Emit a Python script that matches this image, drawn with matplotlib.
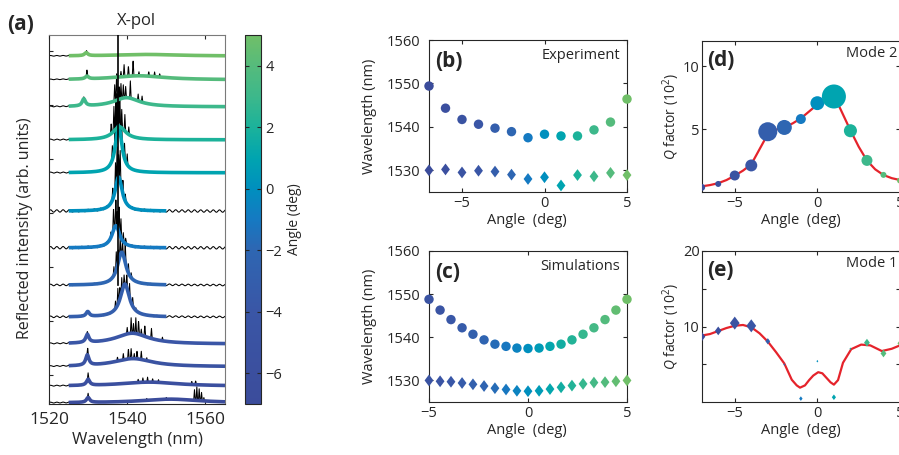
import numpy as np
import matplotlib.pyplot as plt
from matplotlib.colors import LinearSegmentedColormap, Normalize
from matplotlib.cm import ScalarMappable

plt.rcParams['font.family'] = ['Open Sans', 'DejaVu Sans']
plt.rcParams['mathtext.fontset'] = 'custom'
plt.rcParams['mathtext.rm'] = 'Open Sans'
plt.rcParams['mathtext.it'] = 'Open Sans:italic'

ink = '#262626'
fit_red = '#e5232b'

# ---- angle colour scale (shared by all panels)
scale_angles = [-7, -4, -2, -1, 0, 1, 2, 3, 4, 5]
scale_colors = ['#3b4c9b', '#3a56a6', '#2e66b2', '#1579c2', '#008fbe',
                '#00a4b0', '#1bb29b', '#3cb88b', '#55bb7c', '#70bf68']

# ---- (a) reflection spectra, one per angle, bottom to top
angles_a = [-7, -6, -5, -4, -3, -2, -1, 0, 1, 2, 3, 4, 5]
offset_a = [-0.52, -0.21, 0.15, 0.57, 1.07, 1.66, 2.35, 3.03, 3.74, 4.35, 4.96, 5.46, 5.90]
m1_center = [1530.0, 1530.0, 1529.8, 1529.8, 1529.9, 1530.0, 1530.0, 1530.0,
             1530.0, 1530.0, 1528.9, 1529.7, 1529.5]
m1_height = [0.09, 0.11, 0.19, 0.15, 0.09, 0, 0, 0, 0, 0, 0.13, 0.05, 0.055]
m2_center = [1551.0, 1545.6, 1541.5, 1541.3, 1539.4, 1538.6, 1537.1, 1537.8,
             1537.8, 1538.0, 1539.8, 1543.0, 1545.0]
m2_height = [0.07, 0.075, 0.15, 0.20, 0.61, 0.61, 0.41, 0.63, 0.87, 0.24, 0.17, 0.075, 0.03]
m2_hwhm = [9, 9, 6, 5, 1.4, 1.3, 1.2, 1.1, 1.0, 2.0, 4, 8, 10]
fit_end = [1565, 1565, 1565, 1565, 1550, 1550, 1550, 1550, 1565, 1565, 1565, 1565, 1565]
ripple_a = [0.008, 0.008, 0.008, 0.01, 0.015, 0.015, 0.022, 0.022, 0.01, 0.01, 0.008, 0.006, 0.006]
spikes_a = [
    [(1530.0, 0.07), (1545.0, 0.04), (1550.0, 0.04), (1557.2, 0.19), (1557.8, 0.26),
     (1558.4, 0.22), (1559.0, 0.15), (1559.6, 0.07)],
    [(1530.0, 0.11), (1542.8, 0.05), (1544.0, 0.08), (1545.2, 0.10), (1546.5, 0.07),
     (1548.0, 0.05), (1556.5, 0.07), (1557.5, 0.07)],
    [(1529.9, 0.13), (1537.5, 0.08), (1539.0, 0.12), (1540.3, 0.20), (1541.0, 0.18),
     (1541.8, 0.10), (1542.5, 0.15), (1543.6, 0.16), (1545.0, 0.06)],
    [(1529.8, 0.04), (1540.0, 0.12), (1541.0, 0.28), (1541.6, 0.18), (1542.2, 0.30),
     (1542.9, 0.25), (1543.6, 0.12), (1544.5, 0.20), (1546.2, 0.18), (1549.0, 0.06)],
    [(1537.0, 0.15), (1537.6, 0.30), (1538.1, 0.22), (1538.6, 0.28), (1539.2, 0.18),
     (1539.9, 0.25), (1540.6, 0.28), (1541.4, 0.15), (1542.2, 0.06)],
    [(1536.6, 0.15), (1537.2, 0.35), (1537.7, 0.25), (1538.2, 0.30), (1538.8, 0.25),
     (1539.5, 0.35), (1540.3, 0.20), (1541.0, 0.08)],
    [(1535.8, 0.12), (1536.5, 0.40), (1537.1, 0.55), (1537.5, 0.35), (1537.9, 0.50),
     (1538.4, 0.35), (1539.0, 0.18), (1539.6, 0.08)],
    [(1536.3, 0.20), (1537.0, 0.50), (1537.4, 0.65), (1537.8, 0.40), (1538.2, 0.55),
     (1538.9, 0.30), (1539.5, 0.12)],
    [(1536.2, 0.25), (1536.9, 0.60), (1537.3, 0.85), (1537.7, 0.55), (1538.1, 0.70),
     (1538.6, 0.40), (1539.3, 0.30), (1540.0, 0.20)],
    [(1535.9, 0.20), (1536.6, 0.45), (1537.1, 0.70), (1537.5, 0.45), (1538.0, 0.40),
     (1538.6, 0.35), (1539.4, 0.30), (1540.4, 0.15)],
    [(1528.9, 0.04), (1536.8, 0.30), (1537.3, 0.55), (1537.9, 0.25), (1538.4, 0.28),
     (1539.0, 0.25), (1539.6, 0.20), (1540.8, 0.32), (1542.8, 0.12), (1543.8, 0.12)],
    [(1529.7, 0.12), (1538.4, 0.10), (1539.2, 0.22), (1540.3, 0.20), (1541.5, 0.30),
     (1543.0, 0.07), (1545.5, 0.09), (1547.0, 0.09), (1548.3, 0.07)],
    [(1529.6, 0.04), (1530.2, 0.02)],
]
marker_line = 1537.6

# ---- (b) measured resonance wavelengths
angles_b = [-7, -6, -5, -4, -3, -2, -1, 0, 1, 2, 3, 4, 5]
mode2_exp = [1549.4, 1544.3, 1541.7, 1540.6, 1539.7, 1538.9, 1537.5, 1538.3,
             1537.9, 1537.9, 1539.3, 1541.1, 1546.4]
mode1_exp = [1530.0, 1530.2, 1529.5, 1529.9, 1529.7, 1529.0, 1528.0, 1528.4,
             1526.5, 1528.9, 1528.6, 1529.4, 1528.9]

# ---- (c) simulated resonance wavelengths
angles_c = [-5, -4.44, -3.89, -3.33, -2.78, -2.22, -1.67, -1.11, -0.56, 0,
            0.56, 1.11, 1.67, 2.22, 2.78, 3.33, 3.89, 4.44, 5]
mode2_sim = [1548.8, 1546.3, 1544.1, 1542.2, 1540.7, 1539.4, 1538.4, 1537.9, 1537.5, 1537.4,
             1537.5, 1537.9, 1538.4, 1539.4, 1540.7, 1542.2, 1544.1, 1546.3, 1548.8]
mode1_sim = [1530.0, 1529.8, 1529.7, 1529.4, 1529.1, 1528.7, 1528.2, 1527.9, 1527.6, 1527.5,
             1527.6, 1528.0, 1528.4, 1528.8, 1529.2, 1529.5, 1529.6, 1529.8, 1530.0]

# ---- (d) / (e) quality factors (units of 10^2), marker weight in pt
angles_q = [-7, -6, -5, -4, -3, -2, -1, 0, 1, 2, 3, 4, 5]
q_mode2 = [0.37, 0.64, 1.31, 2.11, 4.79, 5.13, 5.80, 7.06, 7.59, 4.87, 2.51, 1.36, 0.91]
w_mode2 = [5.0, 4.3, 7.2, 8.6, 13.7, 10.8, 7.2, 10.0, 17.3, 9.4, 7.9, 4.3, 4.3]
q_mode1 = [8.66, 9.42, 10.45, 10.09, 8.04, 4.96, 0.45, 5.4, 0.63, 7.05, 7.86, 6.43, 7.77]
w_mode1 = [7.0, 6.3, 9.4, 9.4, 4.5, 1.8, 3.3, 1.8, 4.0, 1.8, 5.6, 5.6, 4.8]

fit2_angle = [-7, -6.5, -6, -5.5, -5, -4.5, -4, -3.5, -3, -2.5, -2, -1.5, -1, -0.5, 0,
              0.5, 1, 1.25, 1.5, 1.75, 2, 2.5, 3, 3.5, 4, 4.5, 5]
fit2_q = [0.45, 0.55, 0.7, 0.95, 1.3, 1.7, 2.2, 3.4, 4.6, 4.95, 5.15, 5.45, 5.85, 6.4, 6.95,
          7.4, 7.5, 7.0, 6.3, 5.6, 4.9, 3.6, 2.5, 1.8, 1.35, 1.1, 0.95]
fit1_angle = [-7, -6.5, -6, -5.5, -5, -4.5, -4, -3.5, -3, -2.5, -2, -1.55, -1.25, -1.05, -0.75,
              -0.5, -0.25, 0.05, 0.3, 0.55, 0.8, 1.0, 1.25, 1.55, 2.05, 2.65, 3.2, 3.9, 4.5, 5]
fit1_q = [8.8, 9.0, 9.4, 9.8, 10.1, 10.2, 9.9, 9.1, 8.0, 6.6, 5.1, 2.95, 2.2, 1.9, 2.2,
          2.9, 3.5, 3.95, 3.8, 3.2, 2.6, 2.3, 2.9, 5.2, 7.0, 7.6, 7.5, 6.75, 7.05, 7.5]

W, H = 899, 455
fig = plt.figure(figsize=(W / 100, H / 100), dpi=100)


def box(left, top, right, bottom):
    return [left / W, 1 - bottom / H, (right - left) / W, (bottom - top) / H]


norm = Normalize(-7, 5)
cmap = LinearSegmentedColormap.from_list(
    'angle', [(norm(a), c) for a, c in zip(scale_angles, scale_colors)])
diamond = [(0, 1), (0.75, 0), (0, -1), (-0.75, 0)]


def style(ax, size, right=True):
    ax.tick_params(direction='in', length=3, width=0.8, colors=ink, labelsize=size,
                   top=True, right=right, pad=3)
    for sp in ax.spines.values():
        sp.set_color(ink)
        sp.set_linewidth(0.8)


# ---------------- (a)
ax = fig.add_axes(box(49, 35, 225, 404))
wl = np.arange(1520, 1565.001, 0.04)


def lorentz(x, c, h, w):
    return h / (1 + ((x - c) / w) ** 2)


for i, ang in enumerate(angles_a):
    fit = lorentz(wl, m1_center[i], m1_height[i], 0.5) + \
        lorentz(wl, m2_center[i], m2_height[i], m2_hwhm[i])
    raw = fit + ripple_a[i] * np.sin(2 * np.pi * wl / 1.6)
    for c, h in spikes_a[i]:
        raw = raw + h * np.clip(1 - np.abs(wl - c) / 0.2, 0, None)
    ax.plot(wl, offset_a[i] + raw, color='black', lw=0.75, zorder=2)
    keep = (wl >= 1525) & (wl <= fit_end[i])
    ax.plot(wl[keep], offset_a[i] + fit[keep], color=cmap(norm(ang)), lw=2.6,
            solid_capstyle='butt', zorder=3)
ax.plot([marker_line, marker_line], [offset_a[4] + 0.6, 6.29], color='black', lw=1.2, zorder=4)
ax.set_xlim(1520, 1565)
ax.set_ylim(-0.54, 6.29)
ax.set_xticks([1520, 1540, 1560])
ax.set_yticks(range(7))
ax.set_yticklabels([])
style(ax, 12.5, right=False)
ax.tick_params(axis='x', pad=6)
ax.spines['top'].set_color('#7a7a7a')
ax.spines['right'].set_color('#7a7a7a')
ax.set_xlabel('Wavelength (nm)', fontsize=12, color=ink, va='center')
ax.xaxis.set_label_coords(0.5, -0.098)
ax.set_ylabel('Reflected intensity (arb. units)', fontsize=11.5, color=ink, va='center')
ax.yaxis.set_label_coords(-0.136, 0.477)
ax.set_title('X-pol', fontsize=12, color=ink, pad=7)
fig.text(7 / W, 1 - 24 / H, '(a)', fontsize=15, fontweight='bold', color=ink, va='center')

cax = fig.add_axes(box(245, 35, 261, 404))
cb = fig.colorbar(ScalarMappable(norm=norm, cmap=cmap), cax=cax)
cb.set_ticks([-6, -4, -2, 0, 2, 4])
cb.outline.set_edgecolor(ink)
cb.outline.set_linewidth(0.8)
cax.tick_params(direction='in', length=3, width=0.8, colors=ink, labelsize=10.5,
                left=True, right=True, pad=3)
cax.set_ylabel('Angle (deg)', fontsize=10, color=ink, va='center', rotation=90)
cax.yaxis.set_label_coords(3.1, 0.5)

# ---------------- (b) & (c) resonance wavelengths
panels_bc = [
    (box(429, 40, 627, 192), angles_b, mode2_exp, mode1_exp, (-7, 5), '(b)', 'Experiment'),
    (box(429, 251, 627, 402), angles_c, mode2_sim, mode1_sim, (-5, 5), '(c)', 'Simulations'),
]
for rect, angs, m2, m1, xl, tag, note in panels_bc:
    ax = fig.add_axes(rect)
    ax.scatter(angs, m2, c=angs, cmap=cmap, norm=norm, s=46, marker='o',
               edgecolors='none', clip_on=False, zorder=3)
    ax.scatter(angs, m1, c=angs, cmap=cmap, norm=norm, s=72, marker=diamond,
               edgecolors='none', clip_on=False, zorder=3)
    ax.set_xlim(*xl)
    ax.set_ylim(1525, 1560)
    ax.set_xticks([-5, 0, 5])
    ax.set_yticks([1530, 1540, 1550, 1560])
    style(ax, 10.5)
    ax.tick_params(axis='y', pad=6)
    ax.set_xlabel('Angle  (deg)', fontsize=10.5, color=ink, va='center')
    ax.xaxis.set_label_coords(0.495, -0.19)
    ax.set_ylabel('Wavelength (nm)', fontsize=10.5, color=ink, va='center')
    ax.yaxis.set_label_coords(-0.298, 0.5)
    ax.text(0.03, 0.86, tag, transform=ax.transAxes, fontsize=15, fontweight='bold',
            color=ink, va='center')
    ax.text(0.965, 0.9, note, transform=ax.transAxes, fontsize=10.5, color=ink,
            ha='right', va='center')

# ---------------- (d) & (e) quality factors
panels_de = [
    (box(701.7, 41, 900, 192), q_mode2, w_mode2, fit2_angle, fit2_q, 'o', 12,
     [5, 10], ['5', '10'], '(d)', 'Mode 2'),
    (box(701.7, 251, 900, 402), q_mode1, w_mode1, fit1_angle, fit1_q, diamond, 20,
     [5, 10, 15, 20], ['', '10', '', '20'], '(e)', 'Mode 1'),
]
for rect, q, wt, fa, fq, mk, top, yt, ytl, tag, note in panels_de:
    ax = fig.add_axes(rect)
    ax.plot(fa, fq, color=fit_red, lw=1.6, zorder=2)
    ax.scatter(angles_q, q, c=angles_q, cmap=cmap, norm=norm, s=np.array(wt) ** 2,
               marker=mk, edgecolors='none', zorder=3)
    ax.set_xlim(-7, 5)
    ax.set_ylim(0, top)
    ax.set_xticks([-5, 0, 5])
    ax.set_yticks(yt)
    ax.set_yticklabels(ytl)
    style(ax, 10.5)
    ax.tick_params(axis='y', pad=1.5)
    ax.set_xlabel('Angle  (deg)', fontsize=10.5, color=ink, va='center')
    ax.xaxis.set_label_coords(0.5, -0.19)
    ax.set_ylabel(r'$\mathit{Q}$ factor (10$^2$)', fontsize=10, color=ink, va='center')
    ax.yaxis.set_label_coords(-0.155, 0.5)
    ax.text(0.027, 0.868, tag, transform=ax.transAxes, fontsize=15, fontweight='bold',
            color=ink, va='center')
    ax.text(0.986, 0.915, note, transform=ax.transAxes, fontsize=10.5, color=ink,
            ha='right', va='center')

fig.savefig('out.png', dpi=100)
